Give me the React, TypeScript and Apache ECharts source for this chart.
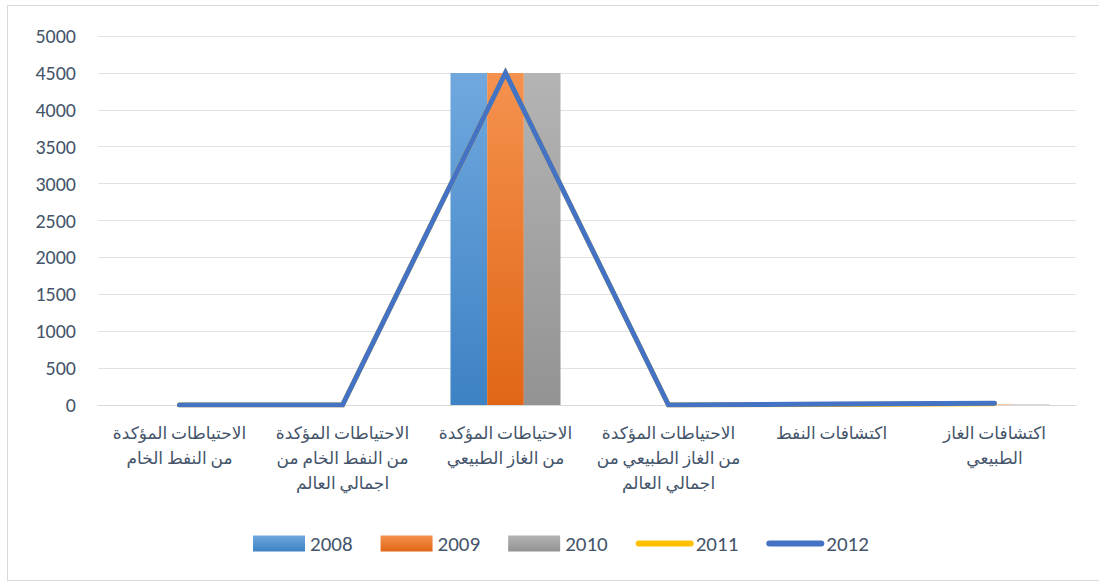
import React, { useEffect, useRef } from "react";
import * as echarts from "echarts";

const categories = [
  "الاحتياطات المؤكدة\nمن النفط الخام",
  "الاحتياطات المؤكدة\nمن النفط الخام من\nاجمالي العالم",
  "الاحتياطات المؤكدة\nمن الغاز الطبيعي",
  "الاحتياطات المؤكدة\nمن الغاز الطبيعي من\nاجمالي العالم",
  "اكتشافات النفط",
  "اكتشافات الغاز\nالطبيعي",
];
const values2008 = [0, 0, 4500, 0, 0, 2];
const values2009 = [0, 0, 4500, 0, 0, 8];
const values2010 = [0, 0, 4500, 0, 0, 8];
const values2011 = [0, 0, 4500, 0, 8, 18];
const values2012 = [0, 0, 4500, 0, 12, 25];

const grad = (top: string, bottom: string) =>
  new echarts.graphic.LinearGradient(0, 0, 0, 1, [
    { offset: 0, color: top },
    { offset: 1, color: bottom },
  ]);

export default function App() {
  const ref = useRef<HTMLDivElement>(null);
  useEffect(() => {
    if (!ref.current) return;
    const chart = echarts.init(ref.current, null, { renderer: "svg" });
    const font = "Calibri, Carlito, 'Noto Sans', 'DejaVu Sans', sans-serif";
    chart.setOption({
      animation: false,
      textStyle: { fontFamily: font },
      grid: { left: 90, right: 30, top: 30, bottom: 175, containLabel: false },
      legend: {
        top: 522,
        left: 240,
        itemWidth: 52,
        itemHeight: 16,
        itemGap: 28,
        textStyle: { fontSize: 21, color: "#44546a", fontFamily: font },
        data: [
          { name: "2008", icon: "rect" },
          { name: "2009", icon: "rect" },
          { name: "2010", icon: "rect" },
          { name: "2011", itemStyle: { opacity: 0 }, lineStyle: { width: 6, cap: "round" } },
          { name: "2012", itemStyle: { opacity: 0 }, lineStyle: { width: 6, cap: "round" } },
        ],
      },
      xAxis: {
        type: "category",
        data: categories,
        axisLine: { lineStyle: { color: "#d9d9d9", width: 1 } },
        axisTick: { show: false },
        axisLabel: {
          interval: 0,
          fontSize: 17,
          lineHeight: 25,
          margin: 16,
          color: "#44546a",
          fontFamily: font,
        },
      },
      yAxis: {
        type: "value",
        min: 0,
        max: 5000,
        interval: 500,
        axisLine: { show: false },
        axisTick: { show: false },
        splitLine: { lineStyle: { color: "#dfe3e8", width: 1 } },
        axisLabel: {
          fontSize: 20,
          color: "#44546a",
          margin: 22,
          fontFamily: font,
          formatter: (v: number) => String(v),
        },
      },
      series: [
        {
          name: "2008",
          type: "bar",
          data: values2008,
          barGap: "0%",
          barCategoryGap: "32.5%",
          itemStyle: { color: grad("#70a8de", "#3d82c4") },
        },
        {
          name: "2009",
          type: "bar",
          data: values2009,
          itemStyle: { color: grad("#f5924f", "#e06615") },
        },
        {
          name: "2010",
          type: "bar",
          data: values2010,
          itemStyle: { color: grad("#b4b4b4", "#939393") },
        },
        {
          name: "2011",
          type: "line",
          data: values2011,
          symbol: "none",
          itemStyle: { color: "#ffc000" },
          lineStyle: { color: "#ffc000", width: 5, cap: "round", join: "miter" },
          z: 3,
        },
        {
          name: "2012",
          type: "line",
          data: values2012,
          symbol: "none",
          itemStyle: { color: "#4472c4" },
          lineStyle: { color: "#4472c4", width: 5, cap: "round", join: "miter" },
          z: 4,
        },
      ],
    });
    return () => chart.dispose();
  }, []);
  return (
    <div
      ref={ref}
      style={{
        position: "absolute",
        left: 7,
        top: 5,
        width: 1100,
        height: 576,
        boxSizing: "border-box",
        border: "1px solid #d9d9d9",
        background: "#fff",
      }}
    />
  );
}
